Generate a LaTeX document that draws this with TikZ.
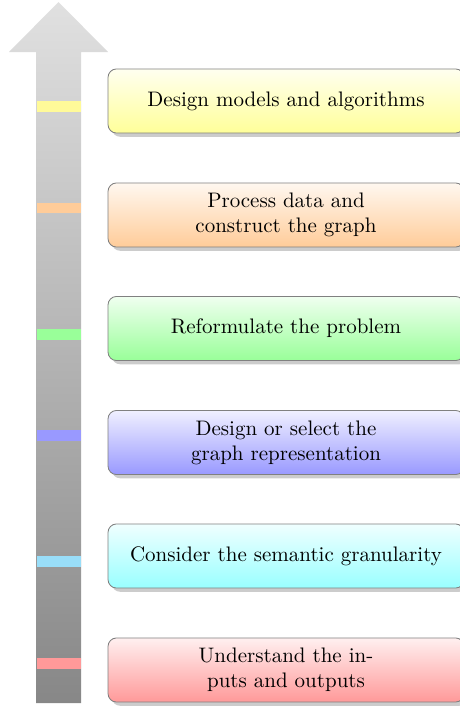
\documentclass[tikz,border=0pt]{standalone}
\usetikzlibrary{shadows}
\begin{document}
\begin{tikzpicture}[x=0.4762pt,y=-0.4762pt,
  stagebox/.style={draw=black!50, line width=0.4pt, rounded corners=4pt,
    minimum width=169.5pt, minimum height=30.5pt, align=center,
    top color=#1!6, bottom color=#1!40,
    drop shadow={shadow xshift=1.8pt, shadow yshift=-1.8pt, opacity=0.4}},
  stripe/.style={fill=#1!40, draw=none}]
\useasboundingbox (0,0) rectangle (460,706);
% big arrow
\shade[top color=black!12, bottom color=black!47]
  (36,703) -- (36,52) -- (9,52) -- (58.5,2) -- (108,52) -- (81,52) -- (81,703) -- cycle;
% stripes
\fill[stripe=yellow] (36.5,101) rectangle (80.5,112);
\fill[stripe=orange] (36.5,203) rectangle (80.5,213);
\fill[stripe=green]  (36.5,329) rectangle (80.5,340);
\fill[stripe=blue]   (36.5,430) rectangle (80.5,441);
\fill[stripe=cyan]   (36.5,556) rectangle (80.5,567);
\fill[stripe=red]    (36.5,658) rectangle (80.5,669);
% boxes
\node[stagebox=yellow] (s6) at (286,101) {Design models and algorithms};
\node[stagebox=orange] (s5) at (286,215) {Process data and\\construct the graph};
\node[stagebox=green]  (s4) at (286,328.5) {Reformulate the problem};
\node[stagebox=blue]   (s3) at (286,442.5) {Design or select the\\graph representation};
\node[stagebox=cyan]   (s2) at (286,556) {Consider the semantic granularity};
\node[stagebox=red]    (s1) at (286,670) {Understand the in-\\puts and outputs};
\end{tikzpicture}
\end{document}
